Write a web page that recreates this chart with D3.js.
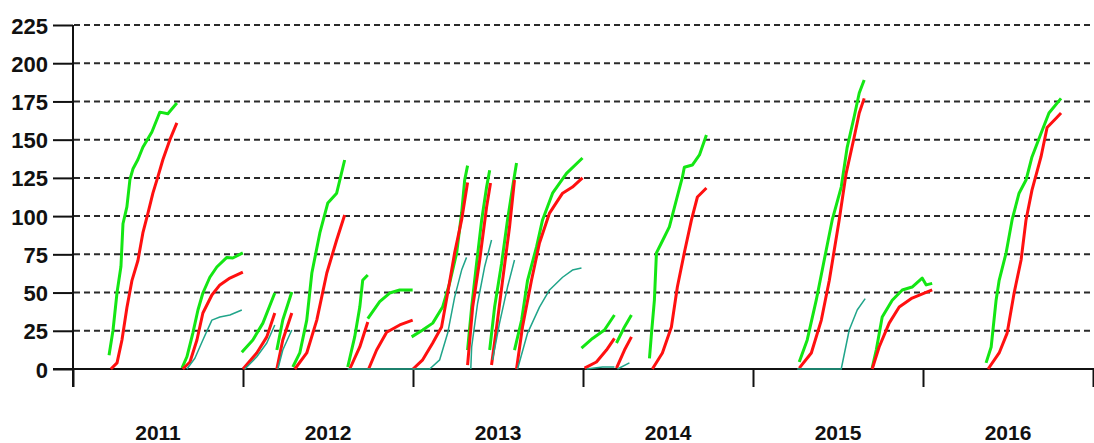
<!DOCTYPE html>
<html>
<head>
<meta charset="utf-8">
<script src="https://cdn.jsdelivr.net/npm/d3@7"></script>
<style>
  body { margin: 0; background: #fff; }
  text { font-family: "Liberation Sans", Arial, sans-serif; font-weight: bold; fill: #111; }
</style>
</head>
<body>
<div id="chart"></div>
<script>
// season curves, [decimal year, value]
var years = [2011, 2012, 2013, 2014, 2015, 2016];
var yTicks = [0, 25, 50, 75, 100, 125, 150, 175, 200, 225];

var greenSeries = [
  [[2011.212,9],[2011.235,25],[2011.259,50],[2011.282,67],[2011.294,95],[2011.317,106],[2011.335,124],[2011.353,131],[2011.382,137],[2011.411,145],[2011.464,155],[2011.500,165],[2011.511,168],[2011.558,167],[2011.611,174]],
  [[2011.641,0.6],[2011.670,8],[2011.705,23.5],[2011.735,38.6],[2011.764,49.7],[2011.805,60],[2011.846,66.7],[2011.905,73],[2011.940,72.6],[2011.999,75.9]],
  [[2011.993,11],[2012.058,19],[2012.117,30],[2012.187,49.7]],
  [[2012.199,12.4],[2012.234,32],[2012.287,50.4]],
  [[2012.293,1.3],[2012.334,10.5],[2012.375,32],[2012.405,62.8],[2012.452,89],[2012.499,108.6],[2012.551,115],[2012.598,136.7]],
  [[2012.616,1.3],[2012.657,21],[2012.687,40.5],[2012.704,58],[2012.734,61.5]],
  [[2012.734,33],[2012.804,44],[2012.863,49.7],[2012.922,51.7],[2012.998,51.7]],
  [[2012.992,21],[2013.057,25.5],[2013.116,30],[2013.174,40.5],[2013.215,56],[2013.257,76],[2013.286,102],[2013.304,123.6],[2013.321,133]],
  [[2013.321,12.4],[2013.345,40.5],[2013.374,69],[2013.404,97.5],[2013.433,119],[2013.451,130]],
  [[2013.451,12.4],[2013.480,40.5],[2013.521,69],[2013.556,97.5],[2013.586,119],[2013.609,134.7]],
  [[2013.597,12.4],[2013.639,32],[2013.674,58],[2013.727,80],[2013.762,97.5],[2013.821,115],[2013.903,128],[2013.997,138]],
  [[2013.991,13.7],[2014.056,20],[2014.126,25.5],[2014.185,35.3]],
  [[2014.197,17],[2014.244,27.5],[2014.285,35.3]],
  [[2014.391,7],[2014.403,23.5],[2014.420,45],[2014.432,76],[2014.461,82.4],[2014.508,93],[2014.549,110.5],[2014.585,125.6],[2014.596,132],[2014.643,133.4],[2014.685,140],[2014.726,153]],
  [[2015.272,4.6],[2015.319,19],[2015.372,45],[2015.431,78],[2015.466,97.5],[2015.519,119],[2015.554,145],[2015.595,165],[2015.625,180.5],[2015.654,189]],
  [[2015.701,0.6],[2015.725,12.4],[2015.760,34],[2015.819,45],[2015.878,51.7],[2015.936,53.6],[2015.995,59.5],[2016.019,55],[2016.054,56]],
  [[2016.371,4],[2016.401,14.4],[2016.430,45],[2016.448,58],[2016.489,76],[2016.524,97.5],[2016.565,115],[2016.606,123.6],[2016.641,138.7],[2016.694,154],[2016.741,167.4],[2016.812,177]]
];

var redSeries = [
  [[2011.223,0],[2011.259,4],[2011.288,19],[2011.317,40],[2011.347,58],[2011.382,71],[2011.411,89],[2011.441,102],[2011.470,115],[2011.500,126],[2011.529,137],[2011.570,150],[2011.611,161]],
  [[2011.646,0],[2011.688,4.6],[2011.729,19],[2011.764,36.6],[2011.817,48.4],[2011.864,55],[2011.923,59.5],[2011.999,63.4]],
  [[2012.000,0],[2012.081,10.5],[2012.140,21],[2012.187,36.6]],
  [[2012.199,0],[2012.234,19],[2012.287,36.6]],
  [[2012.305,0],[2012.375,10.5],[2012.434,32],[2012.493,62.8],[2012.551,84.4],[2012.598,100.7]],
  [[2012.628,0],[2012.687,14.4],[2012.734,30.7]],
  [[2012.739,0],[2012.786,12.4],[2012.845,24],[2012.922,28.8],[2012.998,32]],
  [[2013.000,0],[2013.057,6],[2013.116,17],[2013.168,27.5],[2013.204,49.7],[2013.245,76],[2013.286,97.5],[2013.321,122]],
  [[2013.321,2.6],[2013.351,40.5],[2013.392,71],[2013.433,106],[2013.456,121.6]],
  [[2013.462,2.6],[2013.492,27.5],[2013.527,58],[2013.568,93],[2013.597,123.6]],
  [[2013.609,0],[2013.644,27.5],[2013.697,58],[2013.744,82.4],[2013.803,102],[2013.880,115],[2013.938,119],[2013.997,125]],
  [[2014.009,0.6],[2014.079,4.6],[2014.138,12.4],[2014.185,20]],
  [[2014.197,0.6],[2014.244,12.4],[2014.285,21]],
  [[2014.408,0],[2014.467,10.5],[2014.520,27.5],[2014.555,53.6],[2014.596,76],[2014.638,97.5],[2014.673,112.5],[2014.726,118.4]],
  [[2015.272,0.6],[2015.343,10.5],[2015.402,32],[2015.449,58],[2015.507,97.5],[2015.548,128],[2015.595,151.6],[2015.625,167.4],[2015.654,177]],
  [[2015.701,0],[2015.742,14.4],[2015.801,30],[2015.860,40.5],[2015.936,46.4],[2016.054,51.7]],
  [[2016.383,0],[2016.448,10.5],[2016.495,23.5],[2016.536,49.7],[2016.577,71.3],[2016.606,97.5],[2016.641,117],[2016.694,138.7],[2016.730,158],[2016.783,164],[2016.812,167.4]]
];

var tealSeries = [
  [[2011.670,0],[2011.717,7],[2011.764,19],[2011.817,32],[2011.864,34],[2011.923,35.3],[2011.993,38.6]],
  [[2012.011,0],[2012.081,8],[2012.140,17],[2012.187,28.8]],
  [[2012.205,0],[2012.234,12.4],[2012.287,25.5]],
  [[2012.616,0],[2012.998,0],[2013.098,0],[2013.157,6],[2013.204,23.5],[2013.245,47],[2013.286,64.7],[2013.315,73]],
  [[2013.340,0],[2013.345,14.4],[2013.380,43],[2013.421,66.7],[2013.462,84.4]],
  [[2013.468,6],[2013.509,30],[2013.556,53.6],[2013.597,71.3]],
  [[2013.615,0],[2013.674,23.5],[2013.744,40.5],[2013.803,51.7],[2013.880,60],[2013.938,64.7],[2013.991,66]],
  [[2014.021,0],[2014.115,1.3],[2014.185,1.3]],
  [[2014.203,0],[2014.273,4]],
  [[2015.260,0],[2015.519,0],[2015.566,25.5],[2015.613,38.6],[2015.660,46]]
];

var W = 1094, H = 443;

var svg = d3.select("#chart").append("svg")
    .attr("width", W)
    .attr("height", H);

var x = d3.scaleLinear().domain([2011, 2017]).range([73, 1093]);
var y = d3.scaleLinear().domain([0, 225]).range([369, 25]);

// dashed gridlines
svg.append("g").selectAll("line")
    .data(yTicks.filter(function(d) { return d > 0; }))
    .enter().append("line")
    .attr("x1", 74).attr("x2", W)
    .attr("y1", function(d) { return y(d); })
    .attr("y2", function(d) { return y(d); })
    .attr("stroke", "#2a2a2a")
    .attr("stroke-width", 2)
    .attr("stroke-dasharray", "6,4");

// y axis
var yAxis = svg.append("g")
    .attr("transform", "translate(73,0)")
    .call(d3.axisLeft(y).tickValues(yTicks).tickSize(20).tickPadding(5).tickSizeOuter(0));
yAxis.select(".domain").remove();
yAxis.selectAll("line").attr("stroke", "#111").attr("stroke-width", 2);
yAxis.selectAll("text")
    .attr("dy", 3).attr("y", 5)
    .style("font-size", "22px")
    .style("dominant-baseline", "auto");

svg.append("line")
    .attr("x1", 73).attr("x2", 73)
    .attr("y1", y(225)).attr("y2", 387)
    .attr("stroke", "#111").attr("stroke-width", 2);

// x axis
var xAxis = svg.append("g")
    .attr("transform", "translate(0,369)")
    .call(d3.axisBottom(x).tickValues(d3.range(2011, 2018)).tickSize(18).tickFormat("").tickSizeOuter(0));
xAxis.select(".domain").remove();
xAxis.selectAll("line").attr("stroke", "#111").attr("stroke-width", 2);

svg.append("line")
    .attr("x1", 53).attr("x2", W)
    .attr("y1", y(0)).attr("y2", y(0))
    .attr("stroke", "#111").attr("stroke-width", 2);

svg.append("g").selectAll("text")
    .data(years)
    .enter().append("text")
    .attr("x", function(d) { return x(d + 0.5); })
    .attr("y", 440)
    .attr("text-anchor", "middle")
    .style("font-size", "21px")
    .text(function(d) { return d; });

// curves
var line = d3.line()
    .x(function(d) { return x(d[0]); })
    .y(function(d) { return y(d[1]); });

function drawSeries(data, color, width) {
  svg.append("g").selectAll("path")
    .data(data)
    .enter().append("path")
    .attr("d", line)
    .attr("fill", "none")
    .attr("stroke", color)
    .attr("stroke-width", width)
    .attr("stroke-linejoin", "round");
}

drawSeries(greenSeries, "#14e614", 3);
drawSeries(redSeries, "#ff1010", 3);
drawSeries(tealSeries, "#20a58a", 1.5);
</script>
</body>
</html>
